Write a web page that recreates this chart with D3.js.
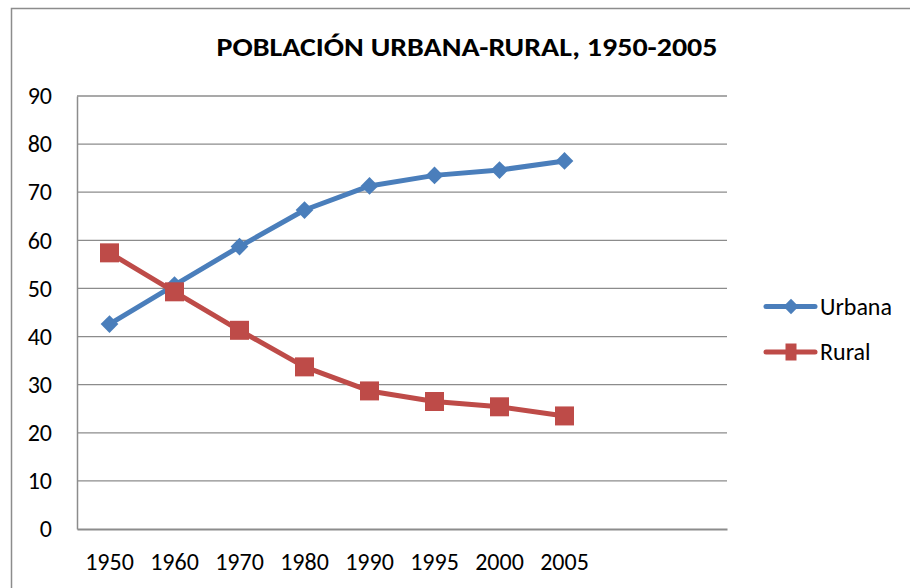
<!DOCTYPE html>
<html>
<head>
<meta charset="utf-8">
<script src="https://cdn.jsdelivr.net/npm/d3@7"></script>
<style>
  body { margin: 0; background: #fff; }
  text { font-family: Calibri, Carlito, "Open Sans", "Liberation Sans", sans-serif; fill: #000; }
</style>
</head>
<body>
<div id="chart"></div>
<script>
// data
const years = ['1950', '1960', '1970', '1980', '1990', '1995', '2000', '2005'];
const urbana = [42.6, 50.7, 58.7, 66.3, 71.3, 73.5, 74.6, 76.5];
const rural = [57.4, 49.3, 41.3, 33.7, 28.7, 26.5, 25.4, 23.5];
const yTicks = [0, 10, 20, 30, 40, 50, 60, 70, 80, 90];
const seriesNames = ['Urbana', 'Rural'];
const seriesColors = ['#4a7ebb', '#be4b48'];

const W = 910, H = 588;
const MARGIN = { top: 96, right: 183, bottom: 59, left: 77 };
const WIDTH = W - MARGIN.left - MARGIN.right;
const HEIGHT = H - MARGIN.top - MARGIN.bottom;
const FONT = 24;

let svg = d3.select('#chart')
  .append('svg')
  .attr('width', W)
  .attr('height', H);

// chart frame (runs off the right and bottom edges)
svg.append('rect')
  .attr('x', 11.5).attr('y', 8.5)
  .attr('width', W + 20).attr('height', H + 20)
  .attr('fill', 'none')
  .attr('stroke', '#8c8c8c')
  .attr('stroke-width', 1.5);

// title
svg.append('text')
  .attr('x', 467).attr('y', 56)
  .attr('text-anchor', 'middle')
  .attr('font-size', 26.7)
  .attr('font-weight', 'bold')
  .attr('textLength', 501)
  .attr('lengthAdjust', 'spacingAndGlyphs')
  .text('POBLACIÓN URBANA-RURAL, 1950-2005');

let g = svg.append('g')
  .attr('transform', 'translate(' + MARGIN.left + ',' + MARGIN.top + ')');

// the axis has room for 10 categories, only 8 are filled
let x = d3.scaleBand()
  .domain(d3.range(10))
  .range([0, WIDTH]);

let y = d3.scaleLinear()
  .domain([0, 90])
  .range([HEIGHT, 0]);

// gridlines
g.append('g')
  .selectAll('line')
  .data(yTicks.filter((d) => d > 0))
  .join('line')
  .attr('x1', 0).attr('x2', WIDTH)
  .attr('y1', (d) => y(d)).attr('y2', (d) => y(d))
  .attr('stroke', '#8c8c8c')
  .attr('stroke-width', 1.3);

// Y axis
let yAxis = g.append('g')
  .call(d3.axisLeft(y).tickValues(yTicks).tickSize(0).tickPadding(25));
yAxis.select('.domain').attr('stroke', '#8c8c8c').attr('stroke-width', 1.5);
yAxis.selectAll('text').attr('font-size', FONT).attr('font-family', null);

// X axis
let xAxis = g.append('g')
  .attr('transform', 'translate(0,' + HEIGHT + ')')
  .call(d3.axisBottom(x).tickSize(0).tickPadding(24).tickFormat((i) => years[i] || ''));
xAxis.select('.domain').attr('stroke', '#8c8c8c').attr('stroke-width', 1.8);
xAxis.selectAll('text').attr('font-size', FONT).attr('font-family', null);

const cx = (i) => x(i) + x.bandwidth() / 2;

let line = d3.line()
  .x((d, i) => cx(i))
  .y((d) => y(d));

const diamond = d3.symbol().type(d3.symbolDiamond2).size(200);
const square = 'M-9.5,-9.5H9.5V9.5H-9.5Z';

[urbana, rural].forEach(function (values, s) {
  g.append('path')
    .datum(values)
    .attr('fill', 'none')
    .attr('stroke', seriesColors[s])
    .attr('stroke-width', 5)
    .attr('stroke-linejoin', 'round')
    .attr('d', line);

  g.append('g')
    .selectAll('path')
    .data(values)
    .join('path')
    .attr('fill', seriesColors[s])
    .attr('transform', (d, i) => 'translate(' + cx(i) + ',' + y(d) + ')')
    .attr('d', s === 0 ? diamond : square);
});

// legend
let legend = svg.append('g');
seriesNames.forEach(function (name, s) {
  let ly = 306.5 + s * 45.5;
  legend.append('line')
    .attr('x1', 766).attr('x2', 815)
    .attr('y1', ly).attr('y2', ly)
    .attr('stroke', seriesColors[s])
    .attr('stroke-width', 5)
    .attr('stroke-linecap', 'round');
  legend.append('path')
    .attr('transform', 'translate(791,' + ly + ')')
    .attr('fill', seriesColors[s])
    .attr('d', s === 0 ? d3.symbol().type(d3.symbolDiamond2).size(150)() : 'M-5.5,-8.5H5.5V8.5H-5.5Z');
  legend.append('text')
    .attr('x', 820).attr('y', ly + 8)
    .attr('font-size', FONT)
    .text(name);
});
</script>
</body>
</html>
